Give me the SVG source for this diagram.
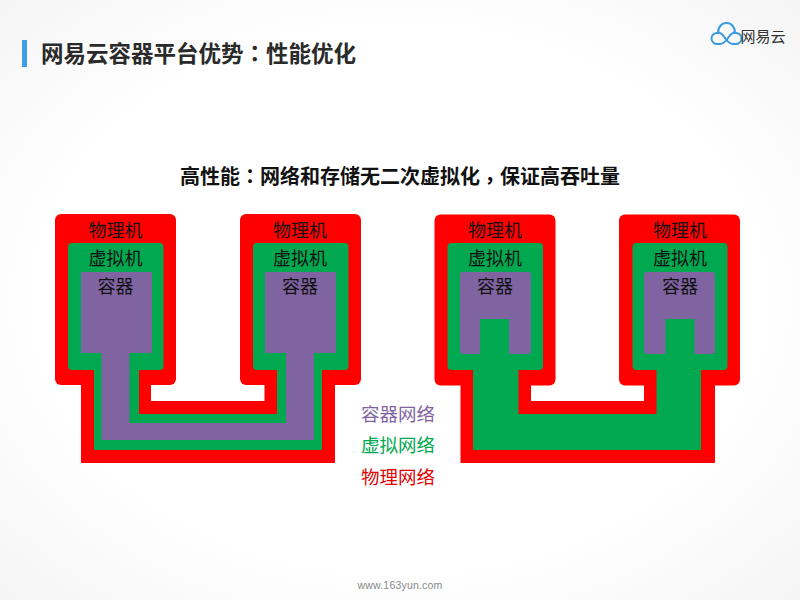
<svg xmlns="http://www.w3.org/2000/svg" width="800" height="600" viewBox="0 0 800 600">
<defs>
<radialGradient id="bg" cx="50%" cy="50%" r="75%"><stop offset="0.6" stop-color="#ffffff"/><stop offset="1" stop-color="#f3f3f4"/></radialGradient>
</defs>
<style>
text{font-family:"Noto Sans CJK SC","Noto Sans",sans-serif;text-anchor:middle}
.tc{font-family:"Noto Sans CJK TC",sans-serif}
.r{fill:#ff0000}.g{fill:#00a850}.p{fill:#8064a2}
.l{font-size:18px;fill:#111}
.n{font-size:18.500px}
</style>
<rect width="800" height="600" fill="url(#bg)"/>
<rect x="22" y="40" width="5" height="27" fill="#3f9fe6"/>
<text x="41" y="62" font-size="22.500" font-weight="700" fill="#2a2a2a" style="text-anchor:start">网易云容器平台优势<tspan class="tc">：</tspan>性能优化</text>
<g id="logo" fill="none" stroke="#3a9ae0" stroke-width="2" transform="translate(-1 0)">
<path d="M721 44h-2.500a5.500 5.500 0 0 1-1-11c.5-.1 1-.1 1.500 0c0-6 3.500-10 8.500-10s8.500 4 8.500 10c.5-.1 1-.1 1.500 0a5.500 5.500 0 0 1-1 11h-2.500c-3.500 0-6-3-8-6s-4-5.500-7-5.500"/>
<path d="M721 44c3.500 0 6-3 8-6s4-5.500 7-5.500"/>
</g>
<text x="763" y="42" font-size="15" fill="#333">网易云</text>
<text x="400" y="184" font-size="20" font-weight="700" fill="#111">高性能<tspan class="tc">：</tspan>网络和存储无二次虚拟化<tspan class="tc" dy="4">，</tspan><tspan dy="-4">保证高吞吐量</tspan></text>
<g id="host-a1">
<rect class="r" x="55" y="214" width="121" height="171" rx="6"/>
<rect class="g" x="68" y="243" width="95.500" height="127" rx="4"/>
<rect class="p" x="81" y="272" width="71" height="81"/>
<text class="l" x="115.500" y="237">物理机</text><text class="l" x="115.500" y="265">虚拟机</text><text class="l" x="115.500" y="293">容器</text>
</g>
<g id="host-a2">
<rect class="r" x="240" y="214" width="121" height="171" rx="6"/>
<rect class="g" x="253" y="243" width="95.500" height="127" rx="4"/>
<rect class="p" x="265" y="272" width="71" height="81"/>
<text class="l" x="300" y="237">物理机</text><text class="l" x="300" y="265">虚拟机</text><text class="l" x="300" y="293">容器</text>
</g>
<g id="host-b1">
<rect class="r" x="434.500" y="214.500" width="121" height="171" rx="6"/>
<rect class="g" x="447.500" y="243" width="95.500" height="127" rx="4"/>
<rect class="p" x="460" y="272" width="71" height="82" rx="3"/>
<rect class="g" x="480" y="319" width="29" height="36"/>
<text class="l" x="495" y="237">物理机</text><text class="l" x="495" y="265">虚拟机</text><text class="l" x="495" y="293">容器</text>
</g>
<g id="host-b2">
<rect class="r" x="619" y="214.500" width="121" height="171" rx="6"/>
<rect class="g" x="632.500" y="243" width="95" height="127" rx="4"/>
<rect class="p" x="644" y="272" width="71" height="82" rx="3"/>
<rect class="g" x="665.500" y="319" width="29" height="36"/>
<text class="l" x="680" y="237">物理机</text><text class="l" x="680" y="265">虚拟机</text><text class="l" x="680" y="293">容器</text>
</g>
<g id="connectors">
<path class="r" d="M81 385H151V401H264.500V385H335V463H81Z"/>
<path class="g" d="M94 370H139V414H277V370H322V450H94Z"/>
<path class="p" d="M101.500 353H129.500V423H286V353H314V440H101.500Z"/>
<path class="r" d="M460.500 385H531V401H644V385H715V463H460.500Z"/>
<path class="g" d="M473 370H518.500V414H656.500V370H701V450H473Z"/>
</g>
<g id="legend">
<text class="n" x="398" y="421" fill="#8064a2">容器网络</text>
<text class="n" x="398" y="452" fill="#00a850">虚拟网络</text>
<text class="n" x="398" y="484" fill="#e00000">物理网络</text>
</g>
<text x="400" y="589" font-size="10.500" fill="#888" style="font-family:'Liberation Sans',sans-serif;letter-spacing:.2px">www.163yun.com</text>
</svg>
